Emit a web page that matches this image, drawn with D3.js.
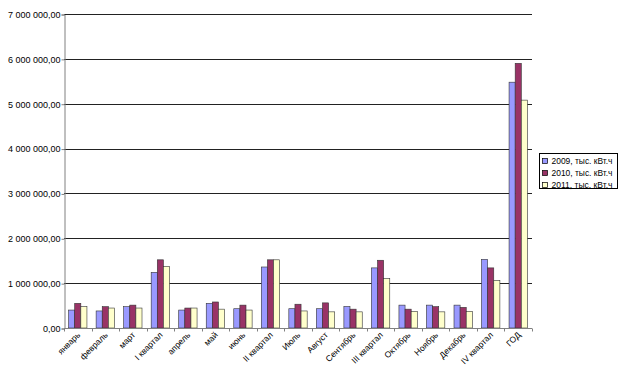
<!DOCTYPE html>
<html>
<head>
<meta charset="utf-8">
<script src="https://cdn.jsdelivr.net/npm/d3@7"></script>
<style>
  body { margin: 0; background: #fff; }
  text { font-family: "Liberation Sans", Arial, sans-serif; fill: #000; }
</style>
</head>
<body>
<script>
//categories and series values (kWh, thousands)
var categories = ["январь", "февраль", "март", "I квартал", "апрель", "май", "июнь", "II квартал",
    "Июль", "Август", "Сентябрь", "III квартал", "Октябрь", "Ноябрь", "Декабрь", "IV квартал", "ГОД"];
var seriesNames = ["2009, тыс. кВт.ч", "2010, тыс. кВт.ч", "2011, тыс. кВт.ч"];
var values2009 = [400000, 380000, 475000, 1240000, 400000, 550000, 430000, 1360000,
    430000, 430000, 480000, 1340000, 510000, 510000, 510000, 1530000, 5480000];
var values2010 = [550000, 475000, 510000, 1520000, 445000, 580000, 510000, 1520000,
    530000, 560000, 420000, 1510000, 420000, 475000, 460000, 1340000, 5900000];
var values2011 = [475000, 445000, 445000, 1370000, 445000, 420000, 400000, 1520000,
    380000, 360000, 360000, 1100000, 370000, 360000, 370000, 1060000, 5080000];
var yTicks = [0, 1000000, 2000000, 3000000, 4000000, 5000000, 6000000, 7000000];
var colors = ["#9999ff", "#993366", "#ffffcc"];

(function(){
    var width = 624, height = 379;
    //plot area
    var pLeft = 64, pRight = 532, pTop = 14, pBottom = 328;

    var svg = d3.select("body").append("svg")
        .attr("width", width)
        .attr("height", height);

    var y = d3.scaleLinear().domain([0, 7000000]).range([pBottom, pTop]);
    var x0 = d3.scaleBand().domain(categories).range([pLeft, pRight]).padding(0);
    var bw = x0.bandwidth();
    var x1 = d3.scaleBand().domain([0, 1, 2]).range([bw / 6, bw * 5 / 6]).padding(0);

    //format like 7 000 000,00
    function fmt(v){
        var s = d3.format(",.2f")(v);
        return s.replace(/,/g, " ").replace(".", ",");
    }

    //gridlines
    svg.append("g").selectAll("line")
        .data(yTicks.slice(1))
        .enter().append("line")
        .attr("x1", pLeft).attr("x2", pRight)
        .attr("y1", function(d){ return Math.round(y(d)) + 0.5; })
        .attr("y2", function(d){ return Math.round(y(d)) + 0.5; })
        .attr("stroke", "#222")
        .attr("stroke-width", 1);

    //bars
    var data = [values2009, values2010, values2011];
    var groups = svg.append("g").selectAll("g")
        .data(categories)
        .enter().append("g")
        .attr("transform", function(d){ return "translate(" + x0(d) + ",0)"; });

    groups.selectAll("rect")
        .data(function(d, i){ return data.map(function(s, j){ return {s: j, v: s[i]}; }); })
        .enter().append("rect")
        .attr("x", function(d){ return x1(d.s); })
        .attr("width", x1.bandwidth())
        .attr("y", function(d){ return y(d.v); })
        .attr("height", function(d){ return pBottom - y(d.v); })
        .attr("fill", function(d){ return colors[d.s]; })
        .attr("stroke", "#333")
        .attr("stroke-width", 0.6);

    //y axis
    var yAxis = d3.axisLeft(y).tickValues(yTicks).tickSize(3).tickFormat(fmt);
    var ya = svg.append("g")
        .attr("transform", "translate(" + (pLeft + 0.5) + ",0.5)")
        .call(yAxis);
    ya.select(".domain").attr("stroke", "#808080");
    ya.selectAll(".tick line").attr("stroke", "#808080");
    ya.selectAll("text")
        .attr("font-size", "9px")
        .attr("fill", "#000")
        .attr("x", -4);

    //x axis
    var xa = svg.append("g").attr("transform", "translate(0," + (pBottom + 0.5) + ")");
    xa.append("line")
        .attr("x1", pLeft).attr("x2", pRight)
        .attr("stroke", "#808080");
    xa.selectAll(".tk")
        .data(d3.range(categories.length + 1))
        .enter().append("line")
        .attr("class", "tk")
        .attr("x1", function(i){ return Math.round(pLeft + i * bw) + 0.5; })
        .attr("x2", function(i){ return Math.round(pLeft + i * bw) + 0.5; })
        .attr("y1", 0).attr("y2", 3)
        .attr("stroke", "#808080");
    xa.selectAll(".lbl")
        .data(categories)
        .enter().append("text")
        .attr("class", "lbl")
        .attr("font-size", "8.5px")
        .attr("text-anchor", "end")
        .attr("transform", function(d){
            return "translate(" + (x0(d) + bw / 2 + 3) + ",7) rotate(-45)";
        })
        .text(function(d){ return d; });

    //legend
    var legend = svg.append("g").attr("transform", "translate(539.5,153.5)");
    legend.append("rect")
        .attr("width", 78).attr("height", 35)
        .attr("fill", "#fff").attr("stroke", "#000").attr("stroke-width", 1);
    var items = legend.selectAll(".item")
        .data(seriesNames)
        .enter().append("g")
        .attr("transform", function(d, i){ return "translate(3," + (5 + i * 12) + ")"; });
    items.append("rect")
        .attr("width", 5).attr("height", 5)
        .attr("fill", function(d, i){ return colors[i]; })
        .attr("stroke", "#000").attr("stroke-width", 0.7);
    items.append("text")
        .attr("x", 9).attr("y", 5)
        .attr("font-size", "8.5px")
        .attr("textLength", 61)
        .attr("lengthAdjust", "spacingAndGlyphs")
        .text(function(d){ return d; });
})();
</script>
</body>
</html>
